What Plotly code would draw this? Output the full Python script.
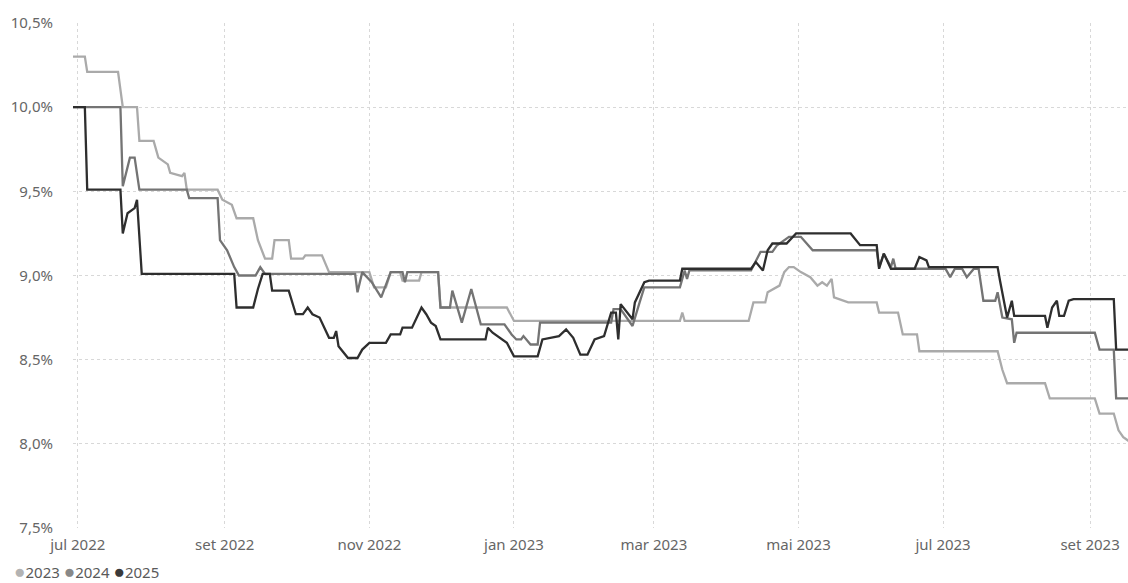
import plotly.graph_objects as go

# ---- data ----
dates_2023 = ["2022-06-29","2022-07-04","2022-07-05","2022-07-18","2022-07-20","2022-07-26","2022-07-27","2022-08-02",
 "2022-08-04","2022-08-08","2022-08-09","2022-08-14","2022-08-15","2022-08-16","2022-08-29","2022-08-31","2022-09-04",
 "2022-09-06","2022-09-13","2022-09-15","2022-09-18","2022-09-21","2022-09-22","2022-09-28","2022-09-29","2022-10-04",
 "2022-10-05","2022-10-12","2022-10-15","2022-11-01","2022-11-03","2022-11-08","2022-11-10","2022-11-14","2022-11-15",
 "2022-11-22","2022-11-23","2022-11-30","2022-12-01","2022-12-29","2023-01-01","2023-03-12","2023-03-13","2023-03-14",
 "2023-04-10","2023-04-12","2023-04-17","2023-04-18","2023-04-23","2023-04-25","2023-04-27","2023-04-29","2023-05-02",
 "2023-05-06","2023-05-09","2023-05-11","2023-05-13","2023-05-15","2023-05-16","2023-05-18","2023-05-22","2023-06-03",
 "2023-06-04","2023-06-12","2023-06-14","2023-06-20","2023-06-21","2023-07-24","2023-07-26","2023-07-28","2023-08-13",
 "2023-08-15","2023-09-03","2023-09-05","2023-09-11","2023-09-13","2023-09-15","2023-09-18"]
vals_2023 = [10.30,10.30,10.21,10.21,10.00,10.00,9.80,9.80,
 9.70,9.66,9.61,9.59,9.61,9.51,9.51,9.45,9.42,
 9.34,9.34,9.21,9.10,9.10,9.21,9.21,9.10,9.10,
 9.12,9.12,9.02,9.02,8.93,8.93,9.02,9.02,8.97,
 8.97,9.02,9.02,8.81,8.81,8.73,8.73,8.78,8.73,
 8.73,8.84,8.84,8.90,8.94,9.02,9.05,9.05,9.02,
 8.99,8.94,8.96,8.94,8.98,8.87,8.86,8.84,8.84,
 8.78,8.78,8.65,8.65,8.55,8.55,8.44,8.36,8.36,
 8.27,8.27,8.18,8.18,8.08,8.04,8.01]

dates_2024 = ["2022-06-29","2022-07-19","2022-07-20","2022-07-23","2022-07-25","2022-07-27","2022-08-16","2022-08-17",
 "2022-08-29","2022-08-30","2022-09-02","2022-09-05","2022-09-07","2022-09-14","2022-09-16","2022-09-18","2022-10-26",
 "2022-10-27","2022-10-29","2022-11-02","2022-11-06","2022-11-10","2022-11-15","2022-11-16","2022-11-17","2022-11-30",
 "2022-12-01","2022-12-05","2022-12-06","2022-12-08","2022-12-10","2022-12-14","2022-12-18","2022-12-28","2022-12-31",
 "2023-01-02","2023-01-04","2023-01-05","2023-01-08","2023-01-11","2023-01-12","2023-02-11","2023-02-12","2023-02-15",
 "2023-02-20","2023-02-23","2023-02-25","2023-03-12","2023-03-14","2023-03-15","2023-03-16","2023-04-11","2023-04-13",
 "2023-04-15","2023-04-20","2023-04-22","2023-04-27","2023-05-02","2023-05-07","2023-06-03","2023-06-04","2023-06-06",
 "2023-06-09","2023-06-10","2023-06-11","2023-07-02","2023-07-04","2023-07-06","2023-07-09","2023-07-11","2023-07-14",
 "2023-07-16","2023-07-18","2023-07-23","2023-07-24","2023-07-26","2023-07-30","2023-07-31","2023-08-01","2023-09-03",
 "2023-09-05","2023-09-11","2023-09-12","2023-09-18"]
vals_2024 = [10.00,10.00,9.53,9.70,9.70,9.51,9.51,9.46,
 9.46,9.21,9.15,9.05,9.00,9.00,9.05,9.01,9.01,
 8.90,9.02,8.96,8.87,9.02,9.02,8.96,9.02,9.02,
 8.81,8.81,8.91,8.81,8.72,8.92,8.71,8.71,8.65,
 8.62,8.62,8.64,8.59,8.59,8.72,8.72,8.80,8.80,
 8.70,8.84,8.93,8.93,9.03,8.98,9.03,9.03,9.09,
 9.14,9.14,9.18,9.23,9.23,9.15,9.15,9.05,9.13,
 9.05,9.10,9.04,9.04,8.99,9.04,9.04,8.99,9.04,
 9.04,8.85,8.85,8.90,8.75,8.74,8.60,8.66,8.66,
 8.56,8.56,8.27,8.27]

dates_2025 = ["2022-06-29","2022-07-04","2022-07-05","2022-07-19","2022-07-20","2022-07-22","2022-07-25","2022-07-26",
 "2022-07-28","2022-09-05","2022-09-06","2022-09-13","2022-09-15","2022-09-17","2022-09-20","2022-09-21","2022-09-28",
 "2022-10-01","2022-10-04","2022-10-06","2022-10-08","2022-10-11","2022-10-15","2022-10-17","2022-10-18","2022-10-19",
 "2022-10-23","2022-10-27","2022-10-29","2022-11-01","2022-11-08","2022-11-10","2022-11-14","2022-11-15","2022-11-19",
 "2022-11-23","2022-11-25","2022-11-27","2022-11-29","2022-12-01","2022-12-20","2022-12-21","2022-12-23","2022-12-27",
 "2022-12-29","2023-01-01","2023-01-11","2023-01-13","2023-01-16","2023-01-20","2023-01-23","2023-01-26","2023-01-29",
 "2023-02-01","2023-02-04","2023-02-08","2023-02-11","2023-02-13","2023-02-14","2023-02-15","2023-02-20","2023-02-21",
 "2023-02-25","2023-02-27","2023-03-12","2023-03-13","2023-04-11","2023-04-13","2023-04-16","2023-04-18","2023-04-20",
 "2023-04-26","2023-04-30","2023-05-23","2023-05-27","2023-06-03","2023-06-04","2023-06-06","2023-06-09","2023-06-19",
 "2023-06-21","2023-06-24","2023-06-25","2023-07-24","2023-07-25","2023-07-28","2023-07-30","2023-07-31","2023-08-13",
 "2023-08-14","2023-08-16","2023-08-18","2023-08-19","2023-08-21","2023-08-23","2023-08-25","2023-09-11","2023-09-12",
 "2023-09-18"]
vals_2025 = [10.00,10.00,9.51,9.51,9.25,9.37,9.40,9.45,
 9.01,9.01,8.81,8.81,8.92,9.01,9.01,8.91,8.91,
 8.77,8.77,8.81,8.77,8.75,8.63,8.63,8.67,8.58,
 8.51,8.51,8.56,8.60,8.60,8.65,8.65,8.69,8.69,
 8.81,8.77,8.72,8.70,8.62,8.62,8.69,8.66,8.62,
 8.60,8.52,8.52,8.62,8.63,8.64,8.68,8.63,8.53,
 8.53,8.62,8.64,8.78,8.78,8.62,8.83,8.74,8.84,
 8.96,8.97,8.97,9.04,9.04,9.08,9.03,9.15,9.19,
 9.19,9.25,9.25,9.18,9.18,9.04,9.13,9.04,9.04,
 9.11,9.09,9.05,9.05,8.97,8.75,8.85,8.76,8.76,
 8.69,8.81,8.85,8.76,8.76,8.85,8.86,8.86,8.56,
 8.56]

series_names = ["2023", "2024", "2025"]
series_colors = ["#aaaaaa", "#747474", "#2e2e2e"]
legend_colors = ["#b3b3b3", "#888888", "#3a3a3a"]

x_tick_vals = ["2022-07-01","2022-09-01","2022-11-01","2023-01-01","2023-03-01","2023-05-01","2023-07-01","2023-09-01"]
x_tick_text = ["jul 2022","set 2022","nov 2022","jan 2023","mar 2023","mai 2023","jul 2023","set 2023"]
y_tick_vals = [7.5, 8.0, 8.5, 9.0, 9.5, 10.0, 10.5]
y_tick_text = ["7,5%", "8,0%", "8,5%", "9,0%", "9,5%", "10,0%", "10,5%"]

FONT = "Segoe UI, Noto Sans, Open Sans, sans-serif"

fig = go.Figure()
for name, xs, ys, col in zip(series_names, [dates_2023, dates_2024, dates_2025],
                             [vals_2023, vals_2024, vals_2025], series_colors):
    fig.add_trace(go.Scatter(x=xs, y=ys, mode="lines", name=name,
                             line=dict(color=col, width=2.3), showlegend=False))

legend_text = " ".join(
    f"<span style='color:{c};font-size:19px'>●</span>{n}" for n, c in zip(series_names, legend_colors))
fig.add_annotation(text=legend_text, xref="paper", yref="paper",
                   x=(12 - 73) / 1055, y=-(571 - 528) / 505, xanchor="left", yanchor="middle",
                   showarrow=False, font=dict(family=FONT, size=15, color="#5a5a5a"))

fig.update_layout(
    width=1128, height=583,
    margin=dict(l=73, r=0, t=23, b=55),
    paper_bgcolor="white", plot_bgcolor="white",
    font=dict(family=FONT, size=15, color="#666666"),
    showlegend=False,
)
fig.update_xaxes(
    range=["2022-06-29", "2023-09-17"],
    tickvals=x_tick_vals, ticktext=x_tick_text,
    showgrid=True, gridcolor="#d8d8d8", griddash="dot", gridwidth=1,
    zeroline=False, showline=False, ticks="", ticklabelstandoff=6,
    tickfont=dict(family=FONT, size=15, color="#666666"),
)
fig.update_yaxes(
    range=[7.5, 10.5],
    tickvals=y_tick_vals, ticktext=y_tick_text,
    showgrid=True, gridcolor="#d8d8d8", griddash="dot", gridwidth=1,
    zeroline=False, showline=False, ticks="", ticklabelstandoff=19,
    tickfont=dict(family=FONT, size=15, color="#666666"),
)

fig.write_html("out.html", config={"displayModeBar": False},
               post_script="document.body.style.margin='0px';")
